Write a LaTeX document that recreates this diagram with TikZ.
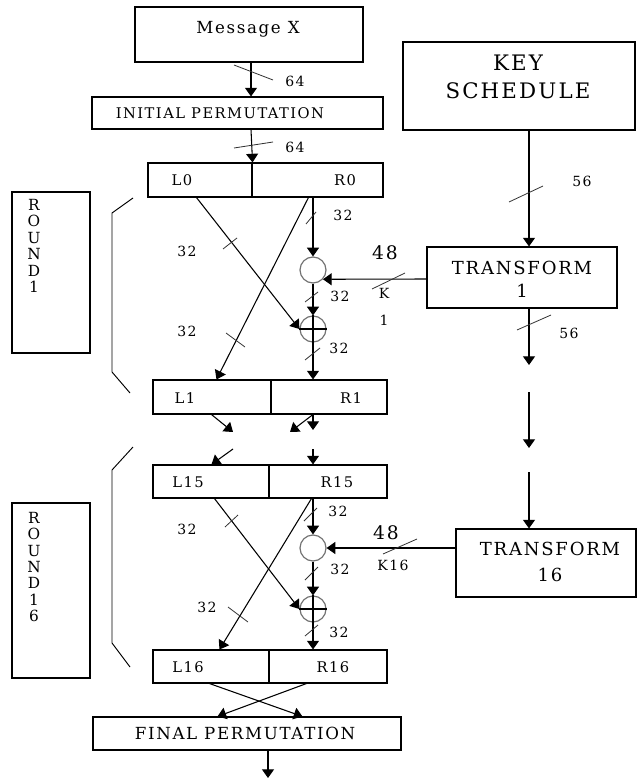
\documentclass[tikz,border=0pt]{standalone}
\usepackage{fontspec}
\setmainfont{DejaVu Serif}[LetterSpace=10]
\usetikzlibrary{arrows.meta,fit,calc}
\begin{document}
\begin{tikzpicture}[x=0.75pt,y=-0.75pt,
  box/.style={draw,line width=0.8pt,inner sep=0pt,rectangle},
  arr/.style={line width=0.8pt,-{Triangle[length=6.5pt,width=9pt]}},
  ln/.style={line width=0.8pt},
  tick/.style={line width=0.6pt,draw=black!80},
  brk/.style={line width=0.7pt},
  circ/.style={draw=black!55,line width=0.9pt,circle,inner sep=0pt,minimum size=19.5pt},
  txt/.style={inner sep=0pt,font=\fontsize{11}{13}\selectfont},
  num/.style={inner sep=0pt,font=\fontsize{10.5}{12}\selectfont},
  bignum/.style={inner sep=0pt,font=\fontsize{14}{16}\selectfont},
  vert/.style={inner sep=0pt,align=center,font=\fontsize{11.5}{12.3}\selectfont}]
\useasboundingbox (0,0) rectangle (637,781);

% ---- main column boxes
\node[box,fit={(135,7) (363,62)}] (msg) {};
\node[inner sep=0pt,font=\fontsize{12.5}{14}\selectfont] (tmsg) at (248,29) {Message X};
\node[box,fit={(92,97) (383,129)}] (ip) {};
\node[txt] (tip) at (220,113) {INITIAL PERMUTATION};

\node[box,fit={(148,163) (252,197)}] (L0) {};
\node[box,fit={(252,163) (383,197)}] (R0) {};
\node[txt] (tL0) at (182,180) {L0};
\node[txt] (tR0) at (345,180) {R0};

\node[box,fit={(153,380) (271,414)}] (L1) {};
\node[box,fit={(271,380) (387,414)}] (R1) {};
\node[txt] (tL1) at (185,398) {L1};
\node[txt] (tR1) at (351,398) {R1};

\node[box,fit={(153,465) (269,498)}] (L15) {};
\node[box,fit={(269,465) (387,498)}] (R15) {};
\node[txt] (tL15) at (188,482) {L15};
\node[txt] (tR15) at (337,482) {R15};

\node[box,fit={(153,650) (269,683)}] (L16) {};
\node[box,fit={(269,650) (387,683)}] (R16) {};
\node[txt] (tL16) at (188,667) {L16};
\node[txt] (tR16) at (333,667) {R16};

\node[box,fit={(93,717) (401,750)}] (fp) {};
\node[inner sep=0pt,font=\fontsize{12.5}{14}\selectfont] (tfp) at (245,733) {FINAL PERMUTATION};
\coordinate (fpout) at (268,778);

% ---- key schedule column
\node[box,fit={(403,42) (635,130)}] (ks) {};
\node[inner sep=0pt,align=center,font=\fontsize{16}{21}\selectfont] (tks) at (518,77) {KEY\\SCHEDULE};
\node[box,fit={(427,247) (617,308)}] (t1) {};
\node[inner sep=0pt,align=center,font=\fontsize{13.5}{17}\selectfont] (tt1) at (522,279) {TRANSFORM\\1};
\node[box,fit={(456,529) (636,597)}] (t16) {};
\node[inner sep=0pt,align=center,font=\fontsize{13.5}{19.5}\selectfont] (tt16) at (550,562) {TRANSFORM\\16};
\coordinate (k1) at (529,365);
\coordinate (k2a) at (529,392);
\coordinate (k2b) at (529,448);
\coordinate (k3) at (529,472);

% ---- round boxes
\node[box,fit={(12,192) (90,353)}] (rnd1) {};
\node[vert] (trnd1) at (34,246) {R\\O\\U\\N\\D\\1};
\node[box,fit={(12,503) (90,678)}] (rnd16) {};
\node[vert] (trnd16) at (34,567) {R\\O\\U\\N\\D\\1\\6};

% ---- function / xor circles
\node[circ] (f1) at (313,270) {};
\node[circ] (x1) at (313,329) {};
\node[circ] (f16) at (313,548) {};
\node[circ] (x16) at (313,609) {};
\draw[ln] (x1.north) -- (x1.south) (x1.west) -- (x1.east);
\draw[ln] (x16.north) -- (x16.south) (x16.west) -- (x16.east);

% ---- top connectors
\draw[arr] (msg.south -| 251,0) -- (ip.north -| 251,0);
\draw[tick] (234,65) -- (273,80);
\node[num] (n64a) at (295,81) {64};
\draw[arr] (ip.south -| 251,0) -- (L0.north east);
\draw[tick] (234,148) -- (273,142);
\node[num] (n64b) at (295,147) {64};

% ---- key schedule connectors
\draw[arr] (ks.south -| k1) -- (t1.north -| k1);
\draw[tick] (509,202) -- (543,186);
\node[num] (n56a) at (582,181) {56};
\draw[arr] (t1.south -| k1) -- (k1);
\draw[tick] (517,330) -- (551,315);
\node[num] (n56b) at (569,333) {56};
\draw[arr] (k2a) -- (k2b);
\draw[arr] (k3) -- (t16.north -| k3);

% ---- round 1
\draw[arr] (R0.south -| f1.north) -- (f1.north);
\draw[tick] (306,224) -- (316,212);
\node[num] (r1a) at (343,215) {32};
\draw[arr] (f1.south) -- (x1.north);
\draw[tick] (305,302) -- (318,292);
\node[num] (r1b) at (340,296) {32};
\draw[arr] (x1.south) -- (R1.north -| x1.south);
\draw[tick] (305,360) -- (320,348);
\node[num] (r1c) at (339,348) {32};
\draw[arr] ($(L0.south west)+(49,0)$) -- (x1.west);
\draw[tick] (223,249) -- (237,238);
\node[num] (r1d) at (187,251) {32};
\draw[arr] ($(R0.south west)+(57,0)$) -- ($(L1.north west)+(64,0)$);
\draw[tick] (226,333) -- (245,347);
\node[num] (r1e) at (187,331) {32};
\draw[arr] (t1.west |- 0,279) -- (f1.-43);
\draw[tick] (372,289) -- (405,273);
\node[bignum] (k48a) at (385,253) {48};
\node[num,align=center,font=\fontsize{10.5}{20}\selectfont] (kk1) at (384,307) {K\\1};

% ---- between rounds
\coordinate (g1) at (233,432);
\coordinate (g2) at (290,432);
\coordinate (g3) at (313,430);
\coordinate (h1) at (233,449);
\coordinate (h2) at (313,449);
\draw[arr] ($(L1.south west)+(59,0)$) -- (g1);
\draw[arr] (R1.south -| g3) -- (g2);
\draw[arr] (R1.south -| g3) -- (g3);
\draw[arr] (h1) -- ($(L15.north west)+(59,0)$);
\draw[arr] (h2) -- (R15.north -| h2);

% ---- round 16
\draw[arr] (R15.south -| f16.north) -- (f16.north);
\draw[tick] (304,521) -- (317,508);
\node[num] (r16a) at (338,511) {32};
\draw[arr] (f16.south) -- (x16.north);
\draw[tick] (305,580) -- (318,567);
\node[num] (r16b) at (340,569) {32};
\draw[arr] (x16.south) -- (R16.north -| x16.south);
\draw[tick] (305,636) -- (318,625);
\node[num] (r16c) at (339,632) {32};
\draw[arr] ($(L15.south west)+(62,0)$) -- (x16.west);
\draw[tick] (225,527) -- (238,515);
\node[num] (r16d) at (187,529) {32};
\draw[arr] ($(R15.south west)+(43,0)$) -- ($(L16.north west)+(67,0)$);
\draw[tick] (228,607) -- (248,622);
\node[num] (r16e) at (207,607) {32};
\draw[arr] (t16.west |- f16.east) -- (f16.east);
\draw[tick] (383,554) -- (417,539);
\node[bignum] (k48b) at (386,533) {48};
\node[num] (kk16) at (393,565) {K16};

% ---- final
\draw[arr] ($(L16.south west)+(57,0)$) -- ($(fp.north west)+(210,0)$);
\draw[arr] ($(R16.south west)+(38,0)$) -- ($(fp.north west)+(125,0)$);
\draw[arr] (fp.south -| fpout) -- (fpout);

% ---- round brackets
\draw[brk] (133,198) -- (112,213) -- (112,372) -- (130,393);
\draw[brk] (133,447) -- (112,470) -- (112,643) -- (130,667);
\end{tikzpicture}
\end{document}
